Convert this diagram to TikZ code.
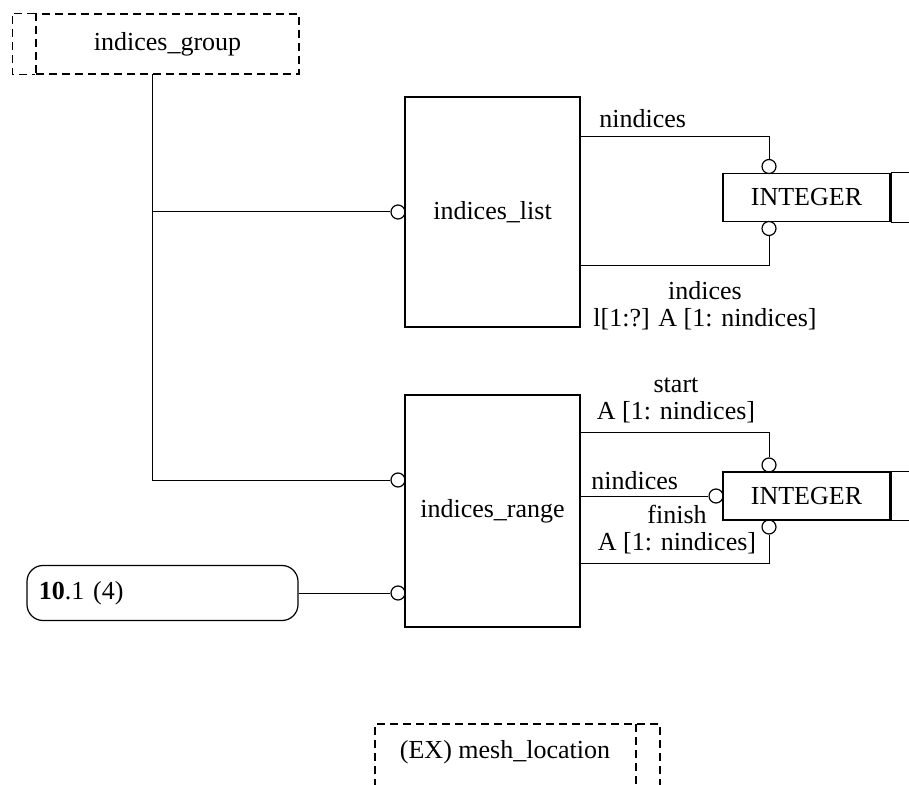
\documentclass[tikz,border=0pt]{standalone}
\usepackage{fontspec}
\setmainfont{Liberation Serif}
\usetikzlibrary{positioning}

\begin{document}
\begin{tikzpicture}[x=0.5pt, y=-0.5pt,
        every node/.style = {font=\fontsize{13}{13.5}\selectfont},
        ent/.style = {draw, line width=0.7pt, minimum width=87.5pt, inner sep=0pt},
        typ/.style = {draw, line width=0.7pt, minimum width=83.5pt, minimum height=24pt, inner sep=0pt},
        ring/.style = {draw, circle, inner sep=0pt, minimum size=7pt, line width=0.6pt},
        dbox/.style = {draw, dash pattern=on 4pt off 2.5pt, line width=0.6pt},
        lnk/.style = {line width=0.5pt},
        lbl/.style = {inner sep=1pt, align=center}
        ]
        \useasboundingbox (0,0) rectangle (909,785);
        % entities
        \node[dbox, minimum width=131.5pt, minimum height=30pt] (grp) at (167.5,44) {indices\_group};
        \draw[dbox] (grp.north west) -- ++(-23,0) |- (grp.south west);
        \node[ent, minimum height=115pt] (lst) at (492.5,212) {indices\_list};
        \node[ent, minimum height=116pt] (rng) at (492.5,511) {indices\_range};
        \node[typ] (int1) at (806.5,197.5) {INTEGER};
        \node[typ] (int2) at (806.5,496) {INTEGER};
        \draw[line width=1.2pt] (int1.north east) -- (int1.south east);
        \draw[line width=1.2pt] (int2.north east) -- (int2.south east);
        \draw[lnk] (int1.north east) -- ++(30,0);
        \draw[lnk] (int1.south east) -- ++(30,0);
        \draw[lnk] (int2.north east) -- ++(30,0);
        \draw[lnk] (int2.south east) -- ++(30,0);
        \node[draw, line width=0.6pt, rounded corners=8pt, minimum width=135.5pt, minimum height=27.5pt,
              text width=123.5pt, inner xsep=6pt, align=left] (ref) at (162.5,593) {\textbf{10}.1 (4)};
        \node (mesh) at (505,752) {(EX) mesh\_location};
        \draw[dbox] (375,800) |- (660,724) -- (660,800);
        \draw[dbox] (636,724) -- (636,800);
        % rings
        \node[ring] (l1) at (398,212) {};
        \node[ring] (a1) at (769,166.5) {};
        \node[ring] (b1) at (769,228.5) {};
        \node[ring] (r1) at (398,480) {};
        \node[ring] (r2) at (398,593) {};
        \node[ring] (a2) at (769,465) {};
        \node[ring] (b2) at (769,527) {};
        \node[ring] (m2) at (716,496) {};
        % connectors
        \coordinate (t0) at (152,74);
        \draw[lnk] (t0) |- (r1);
        \draw[lnk] (t0 |- l1) -- (l1);
        \draw[lnk] (lst.north east) ++(0,40) -| (a1);
        \draw[lnk] (lst.south east) ++(0,-62) -| (b1);
        \draw[lnk] (rng.north east) ++(0,38) -| (a2);
        \draw[lnk] (rng.east |- m2) -- (m2);
        \draw[lnk] (rng.south east) ++(0,-64) -| (b2);
        \draw[lnk] (ref.east |- r2) -- (r2);
        % labels
        \node[lbl, anchor=base west] (n1) at (597,128) {nindices};
        \node[lbl] (n2) at (705,306) {indices\\l[1:?] A [1: nindices]};
        \node[lbl] (n3) at (676,400) {start\\A [1: nindices]};
        \node[lbl, anchor=base west] (n4) at (589,489) {nindices};
        \node[lbl] (n5) at (677,530) {finish\\A [1: nindices]};
\end{tikzpicture}
\end{document}
